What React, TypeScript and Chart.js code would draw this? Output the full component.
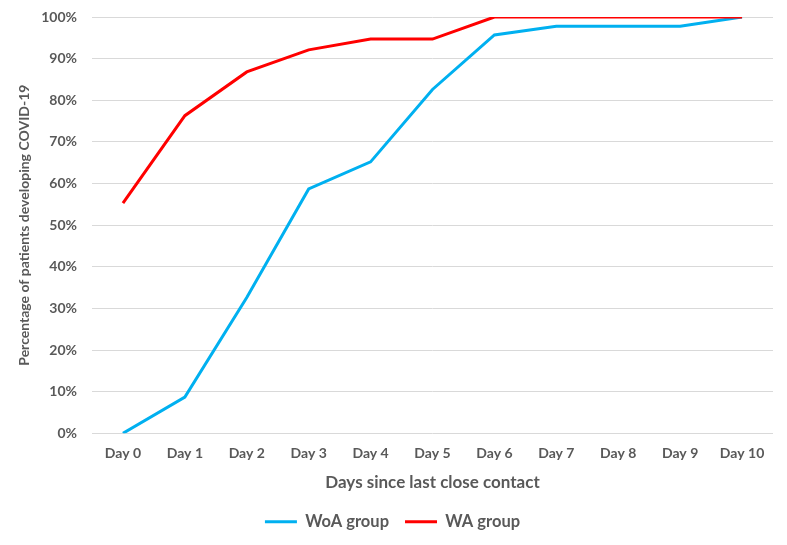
import React, { useEffect, useRef } from "react";
import { Chart, registerables } from "chart.js";

Chart.register(...registerables);

const categories = ["Day 0", "Day 1", "Day 2", "Day 3", "Day 4", "Day 5", "Day 6", "Day 7", "Day 8", "Day 9", "Day 10"];
const woaValues = [0, 8.7, 32.6, 58.7, 65.2, 82.6, 95.7, 97.8, 97.8, 97.8, 100];
const waValues = [55.3, 76.3, 86.8, 92.1, 94.7, 94.7, 100, 100, 100, 100, 100];

const FONT = "Lato, 'Open Sans', sans-serif";
const GREY = "#595959";

export default function App() {
  const ref = useRef<HTMLCanvasElement | null>(null);
  useEffect(() => {
    if (!ref.current) return;
    const chart = new Chart(ref.current, {
      type: "line",
      data: {
        labels: categories,
        datasets: [
          { label: "WoA group", data: woaValues, borderColor: "#00B0F0", backgroundColor: "#00B0F0", borderWidth: 3, pointRadius: 0, tension: 0, order: 1 },
          { label: "WA group", data: waValues, borderColor: "#FF0000", backgroundColor: "#FF0000", borderWidth: 3, pointRadius: 0, tension: 0, order: 0 },
        ],
      },
      options: {
        animation: false,
        responsive: false,
        layout: { padding: { top: 17, right: 14, left: 12, bottom: 5 } },
        plugins: {
          legend: {
            position: "bottom",
            labels: {
              usePointStyle: true,
              pointStyle: "line",
              pointStyleWidth: 32,
              boxWidth: 32,
              boxHeight: 3,
              color: GREY,
              font: { family: FONT, size: 16.5, weight: "bold" },
              padding: 16,
              sort: (a: any, b: any) => a.datasetIndex - b.datasetIndex,
            },
          },
          tooltip: { enabled: false },
        },
        scales: {
          x: {
            offset: true,
            grid: { display: false },
            border: { display: false },
            ticks: { color: GREY, font: { family: FONT, size: 14, weight: "bold" }, padding: 4 },
            title: { display: true, text: "Days since last close contact", color: GREY, font: { family: FONT, size: 17, weight: "bold" }, padding: { top: 6, bottom: 5 } },
          },
          y: {
            min: 0,
            max: 100,
            grid: { color: "#D9D9D9", lineWidth: 1, drawTicks: false },
            border: { display: false },
            afterFit: (s: any) => { s.width = 80; s.paddingTop = 0; s.paddingBottom = 0; },
            ticks: { stepSize: 10, color: GREY, font: { family: FONT, size: 14, weight: "bold" }, padding: 15, callback: (v: any) => v + "%" },
            title: { display: true, text: "Percentage of patients developing COVID-19", color: GREY, font: { family: FONT, size: 14, weight: "bold" }, padding: { top: 4, bottom: 4 } },
          },
        },
      },
    });
    return () => chart.destroy();
  }, []);
  return (
    <div style={{ position: "fixed", left: 0, top: 0, width: 787, height: 545, background: "#fff" }}>
      <canvas ref={ref} width={787} height={545} />
    </div>
  );
}
